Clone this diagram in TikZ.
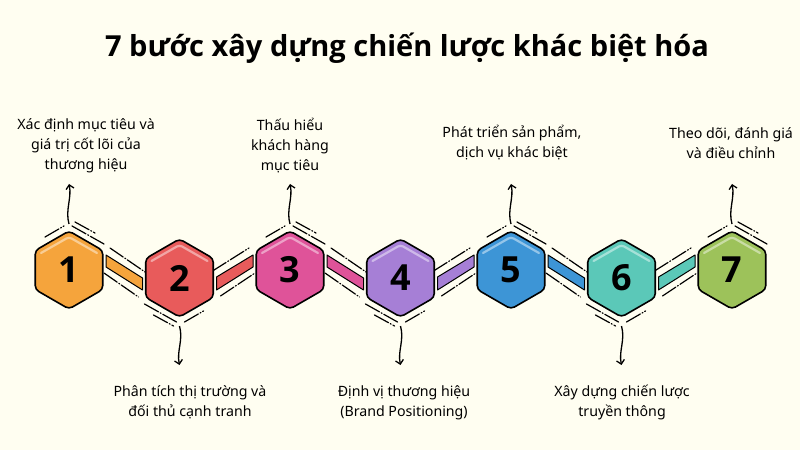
\documentclass[tikz,border=0pt]{standalone}
\usepackage{fontspec}
\setmainfont{Noto Sans}
\newfontfamily\heavyfont{Open Sans}
\usetikzlibrary{shapes.geometric,calc,arrows.meta,positioning}

\definecolor{bgcream}{HTML}{FFFEF1}
\definecolor{stepA}{HTML}{F5A43C}
\definecolor{stepB}{HTML}{E85B5B}
\definecolor{stepC}{HTML}{DF5399}
\definecolor{stepD}{HTML}{A67FD6}
\definecolor{stepE}{HTML}{3D95D6}
\definecolor{stepF}{HTML}{5BC8B8}
\definecolor{stepG}{HTML}{9DC25A}

\tikzset{
  hexa/.style={regular polygon,regular polygon sides=6,shape border rotate=30,
    minimum size=78pt,inner sep=0pt,draw=black,line width=1.6pt,
    rounded corners=4pt,fill=#1,font=\heavyfont\fontsize{36}{36}\selectfont\bfseries},
  shine/.style={#1!55!white,line width=2.2pt,line cap=round,rounded corners=3pt},
  link/.style={fill=#1,draw=black,line width=1pt,line join=round},
  sketch/.style={black,line width=1.2pt,line cap=round,
    dash pattern=on 16pt off 2pt on 1pt off 2pt},
  wavy/.style={black,line width=1.3pt,-{Straight Barb[length=4pt,width=8pt]}},
  note/.style={align=center,inner sep=0pt,font=\fontsize{14.2}{20}\selectfont},
  headline/.style={font=\heavyfont\fontsize{29}{32}\selectfont\bfseries}
}

\begin{document}
\begin{tikzpicture}[x=1pt,y=1pt]
  \fill[bgcream] (0,0) rectangle (800,450);
  \useasboundingbox (0,0) rectangle (800,450);

  \node[headline] (title) at (407,402) {7 bước xây dựng chiến lược khác biệt hóa};

  % links between the hexagons (drawn first, they sit behind)
  \foreach \a/\b/\c in {1/2/stepA,3/4/stepC,5/6/stepE}{
    \coordinate (pa\a) at (69+110.5*\a-110.5,180);
    \coordinate (pb\a) at (69+110.5*\b-110.5,172);
    \filldraw[link=\c] ($(pa\a)+(37,15)$) -- ($(pb\a)+(-37,0)$)
      -- ($(pb\a)+(-37,-12)$) -- ($(pa\a)+(37,3)$) -- cycle;
    \draw[sketch] ($(pa\a)+(41,22)$) -- ($(pb\a)+(-33,5)$);
    \draw[sketch] ($(pa\a)+(35,-3)$) -- ($(pb\a)+(-41,-19)$);
  }
  \foreach \a/\b/\c in {2/3/stepB,4/5/stepD,6/7/stepF}{
    \coordinate (pa\a) at (69+110.5*\a-110.5,172);
    \coordinate (pb\a) at (69+110.5*\b-110.5,180);
    \filldraw[link=\c] ($(pa\a)+(37,1)$) -- ($(pb\a)+(-37,15)$)
      -- ($(pb\a)+(-37,3)$) -- ($(pa\a)+(37,-12)$) -- cycle;
    \draw[sketch] ($(pa\a)+(33,7)$) -- ($(pb\a)+(-41,22)$);
    \draw[sketch] ($(pa\a)+(41,-18)$) -- ($(pb\a)+(-35,-3)$);
  }

  % hexagons
  \foreach \n/\x/\y/\c in {1/69/180/stepA,2/179.5/172/stepB,3/290/180/stepC,
      4/400.5/172/stepD,5/511/180/stepE,6/621.5/172/stepF,7/732/180/stepG}{
    \node[hexa=\c] (h\n) at (\x,\y) {\n};
    \draw[shine=\c] ($(h\n)+(-28,17)$) -- ($(h\n)+(0,33)$) -- ($(h\n)+(28,17)$);
  }

  % sketchy strokes round the hexagons
  \foreach \n in {1,3,5,7}{
    \draw[sketch] ($(h\n)+(3,44)$) -- ($(h\n)+(35,26)$);
    \draw[sketch] ($(h\n)+(6,48)$) -- ($(h\n)+(26,37)$);
    \draw[sketch] ($(h\n)+(-24,33)$) -- ($(h\n)+(-5,44)$);
  }
  \foreach \n in {2,4,6}{
    \draw[sketch] ($(h\n)+(-35,-26)$) -- ($(h\n)+(-3,-44)$);
    \draw[sketch] ($(h\n)+(-26,-37)$) -- ($(h\n)+(-6,-48)$);
    \draw[sketch] ($(h\n)+(5,-44)$) -- ($(h\n)+(24,-33)$);
  }

  % labels
  \node[note] (l1) at (86,304) {Xác định mục tiêu và\\giá trị cốt lõi của\\thương hiệu};
  \node[note] (l3) at (290,304) {Thấu hiểu\\khách hàng\\mục tiêu};
  \node[note] (l5) at (512,307) {Phát triển sản phẩm,\\dịch vụ khác biệt};
  \node[note] (l7) at (731,307) {Theo dõi, đánh giá\\và điều chỉnh};
  \node[note] (l2) at (190,47.5) {Phân tích thị trường và\\đối thủ cạnh tranh};
  \node[note] (l4) at (404,47.5) {Định vị thương hiệu\\(Brand Positioning)};
  \node[note] (l6) at (622,47.5) {Xây dựng chiến lược\\truyền thông};

  % arrows to the labels
  \foreach \n in {1,3,5,7}{
    \coordinate (tip\n) at ($(h\n)+(0,86)$);
    \draw[wavy] ($(h\n)+(0,46)$) .. controls +(-4,14) and +(3,-14) .. (tip\n);
  }
  \foreach \n in {2,4,6}{
    \coordinate (tip\n) at ($(h\n)+(0,-87)$);
    \draw[wavy] ($(h\n)+(0,-48)$) .. controls +(4,-14) and +(-3,14) .. (tip\n);
  }
\end{tikzpicture}
\end{document}
